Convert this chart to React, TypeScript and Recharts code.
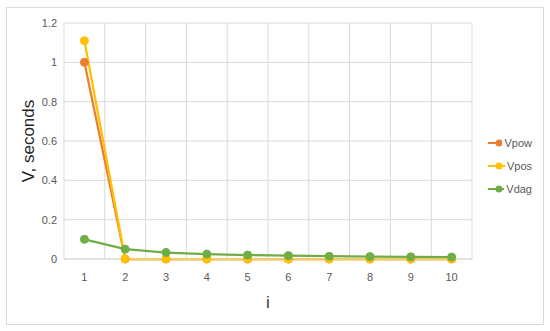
import { LineChart, Line, XAxis, YAxis, CartesianGrid, Legend, Label } from "recharts";

const steps = [1, 2, 3, 4, 5, 6, 7, 8, 9, 10];
const vpow = [1, 0, 0, 0, 0, 0, 0, 0, 0, 0];
const vpos = [1.11, 0, 0, 0, 0, 0, 0, 0, 0, 0];
const vdag = [0.1, 0.05, 0.033, 0.025, 0.02, 0.017, 0.014, 0.0125, 0.011, 0.01];
const yTicks = [0, 0.2, 0.4, 0.6, 0.8, 1, 1.2];

const SERIES = [
  { key: "Vpow", color: "#ED7D31" },
  { key: "Vpos", color: "#FFC000" },
  { key: "Vdag", color: "#70AD47" },
];

const data = steps.map((i, k) => ({ i, Vpow: vpow[k], Vpos: vpos[k], Vdag: vdag[k] }));

const FONT = "'Liberation Sans', Arial, sans-serif";

function LegendBox() {
  return (
    <div style={{ paddingLeft: 16 }}>
      {SERIES.map((s) => (
        <div key={s.key} style={{ display: "flex", alignItems: "center", height: 23 }}>
          <svg width={22} height={10}>
            <line x1={0} y1={5} x2={22} y2={5} stroke={s.color} strokeWidth={2} />
            <circle cx={11} cy={5} r={3.5} fill={s.color} />
          </svg>
          <span style={{ fontSize: 11, color: "#595959", fontFamily: FONT, marginLeft: 2 }}>{s.key}</span>
        </div>
      ))}
    </div>
  );
}

export default function App() {
  return (
    <div style={{ position: "absolute", left: 0, top: 0, width: 550, height: 331, background: "#fff" }}>
      <div style={{ position: "absolute", left: 6, top: 7, width: 536, height: 316, border: "1px solid #d9d9d9" }} />
      <LineChart width={550} height={331} data={data} margin={{ top: 23, right: 18, bottom: 12, left: 0 }}>
        <CartesianGrid
          stroke="#d9d9d9"
          verticalCoordinatesGenerator={({ offset }: any) =>
            [0, 1, 2, 3, 4, 5, 6, 7, 8, 9, 10].map((k) => offset.left + (k * offset.width) / 10)
          }
        />
        <XAxis
          type="number"
          dataKey="i"
          domain={[0.5, 10.5]}
          ticks={steps}
          tickLine={false}
          axisLine={{ stroke: "#d9d9d9" }}
          tick={{ fontSize: 11, fill: "#595959", fontFamily: FONT }}
          tickMargin={8}
          height={60}
        >
          <Label value="i" position="insideBottom" offset={11} style={{ fontSize: 17, fill: "#404040", fontFamily: FONT }} />
        </XAxis>
        <YAxis
          domain={[0, 1.2]}
          ticks={yTicks}
          tickLine={false}
          axisLine={false}
          width={64}
          tick={{ fontSize: 11, fill: "#595959", fontFamily: FONT }}
          tickMargin={1}
        >
          <Label
            value="V, seconds"
            angle={-90}
            position="insideLeft"
            offset={28}
            style={{ fontSize: 17, fill: "#262626", fontFamily: FONT, textAnchor: "middle" }}
          />
        </YAxis>
        <Legend layout="vertical" align="right" verticalAlign="middle" width={60} content={<LegendBox />} />
        {SERIES.map((s) => (
          <Line
            key={s.key}
            dataKey={s.key}
            stroke={s.color}
            strokeWidth={2.25}
            dot={{ r: 4, fill: s.color, stroke: s.color, strokeWidth: 1 }}
            activeDot={false}
            isAnimationActive={false}
          />
        ))}
      </LineChart>
    </div>
  );
}
